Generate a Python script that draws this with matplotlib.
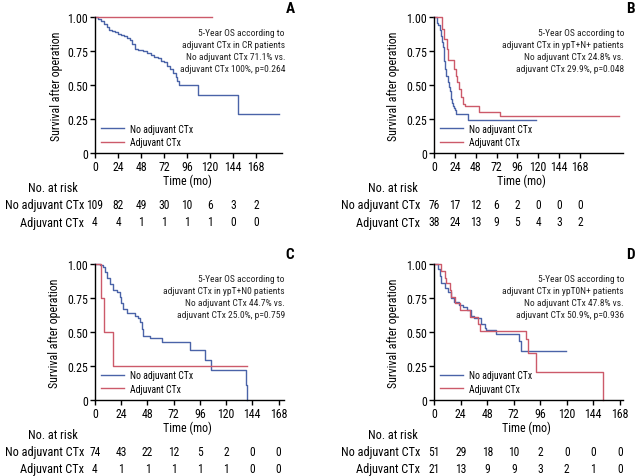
import matplotlib
matplotlib.use("Agg")
import matplotlib.pyplot as plt
from matplotlib import font_manager
from matplotlib.transforms import blended_transform_factory

# ---------- font choice (condensed sans if available) ----------
_avail = {f.name for f in font_manager.fontManager.ttflist}
FONT = "DejaVu Sans"
for cand in ["Liberation Sans Narrow", "DejaVu Sans Condensed", "Roboto Condensed",
             "Open Sans Condensed", "Liberation Sans", "Roboto"]:
    if cand in _avail:
        FONT = cand
        break
plt.rcParams["font.family"] = [FONT, "DejaVu Sans"]

BLUE = "#4a63a8"
RED = "#cc5a6a"

# ---------- data ----------
xticks = [0, 24, 48, 72, 96, 120, 144, 168]
yticks = [0, 0.25, 0.50, 0.75, 1.00]
ytick_labels = ["0", "0.25", "0.50", "0.75", "1.00"]
legend_labels = ["No adjuvant CTx", "Adjuvant CTx"]

# Panel A (CR patients)
a_no_t = [0, 3, 6, 9, 12, 15, 18, 21, 24, 27, 30, 33, 36, 39, 42, 45, 50, 54, 58, 62,
          66, 69, 72, 75, 78, 81, 84, 86, 88, 107, 149, 192]
a_no_s = [1.0, 0.99, 0.97, 0.95, 0.93, 0.91, 0.90, 0.89, 0.88, 0.87, 0.86, 0.85, 0.83,
          0.80, 0.77, 0.76, 0.75, 0.74, 0.72, 0.71, 0.70, 0.68, 0.67, 0.64, 0.62, 0.59,
          0.56, 0.53, 0.50, 0.43, 0.285, 0.285]
a_adj_t = [0, 122]
a_adj_s = [1.0, 1.0]
a_risk_no = [109, 82, 49, 30, 10, 6, 3, 2]
a_risk_adj = [4, 4, 1, 1, 1, 1, 0, 0]
a_text = ("5-Year OS according to\nadjuvant CTx in CR patients\n"
          "No adjuvant CTx 71.1% vs.\nadjuvant CTx 100%, p=0.264")

# Panel B (ypT+N+ patients)
b_no_t = [0, 3, 5, 6.5, 8, 9, 10, 11, 12, 13, 14, 16, 17, 18, 19, 20, 21, 22, 23, 24,
          25.5, 39, 117]
b_no_s = [1.0, 0.96, 0.94, 0.91, 0.86, 0.82, 0.78, 0.74, 0.68, 0.62, 0.57, 0.52, 0.49,
          0.46, 0.43, 0.40, 0.37, 0.35, 0.33, 0.315, 0.285, 0.246, 0.246]
b_adj_t = [0, 9, 11.5, 14.5, 16.5, 23.5, 25, 27, 29, 31, 33.8, 35.6, 52, 75.6, 213]
b_adj_s = [1.0, 0.915, 0.84, 0.77, 0.685, 0.62, 0.57, 0.52, 0.47, 0.41, 0.36, 0.35,
           0.30, 0.27, 0.27]
b_risk_no = [76, 17, 12, 6, 2, 0, 0, 0]
b_risk_adj = [38, 24, 13, 9, 5, 4, 3, 2]
b_text = ("5-Year OS according to\nadjuvant CTx in ypT+N+ patients\n"
          "No adjuvant CTx 24.8% vs.\nadjuvant CTx 29.9%, p=0.048")

# Panel C (ypT+N0 patients)
c_no_t = [0, 4.6, 7.6, 9, 10.7, 13.7, 16.8, 19.8, 23, 24, 26, 29, 36.6, 39.6, 41, 42.7,
          44, 50, 61, 87, 101, 106, 137.8, 139]
c_no_s = [1.0, 0.99, 0.975, 0.94, 0.90, 0.85, 0.81, 0.79, 0.76, 0.71, 0.67, 0.64, 0.62,
          0.60, 0.57, 0.52, 0.47, 0.455, 0.425, 0.368, 0.295, 0.221, 0.11, 0.0]
c_adj_t = [0, 5.5, 8.5, 16.8, 139.4]
c_adj_s = [1.0, 0.75, 0.50, 0.25, 0.25]
c_risk_no = [74, 43, 22, 12, 5, 2, 0, 0]
c_risk_adj = [4, 1, 1, 1, 1, 1, 0, 0]
c_text = ("5-Year OS according to\nadjuvant CTx in ypT+N0 patients\n"
          "No adjuvant CTx 44.7% vs.\nadjuvant CTx 25.0%, p=0.759")

# Panel D (ypT0N+ patients)
d_no_t = [0, 3, 5, 6, 10, 12, 15, 18, 22, 26, 30, 33, 36, 40, 42.6, 45.6, 47, 56, 77,
          78.8, 119]
d_no_s = [1.0, 0.96, 0.91, 0.86, 0.82, 0.79, 0.75, 0.72, 0.70, 0.68, 0.66, 0.62, 0.60,
          0.60, 0.56, 0.53, 0.51, 0.484, 0.43, 0.36, 0.36]
d_adj_t = [0, 6.3, 9.4, 11, 14, 15.4, 18.4, 23, 32, 40, 41, 83, 85, 92.4, 153]
d_adj_s = [1.0, 0.95, 0.90, 0.86, 0.81, 0.76, 0.71, 0.66, 0.61, 0.56, 0.506, 0.447,
           0.344, 0.206, 0.0]
d_risk_no = [51, 29, 18, 10, 2, 0, 0, 0]
d_risk_adj = [21, 13, 9, 9, 3, 2, 1, 0]
d_text = ("5-Year OS according to\nadjuvant CTx in ypT0N+ patients\n"
          "No adjuvant CTx 47.8% vs.\nadjuvant CTx 50.9%, p=0.936")

# ---------- layout (pixels) ----------
W, H = 636, 477
fig = plt.figure(figsize=(W / 100, H / 100), dpi=100)


def fx(px):
    return px / W


def fy(py):
    return 1 - py / H


panels = [
    dict(letter="A", l=95, r=282, t=18.3, b=154, xmax=195,
         no=(a_no_t, a_no_s), adj=(a_adj_t, a_adj_s), rn=a_risk_no, ra=a_risk_adj,
         text=a_text, lab_r=84, nar_r=78, xl_cx=187, yl_cx=57, lx=290, ly=9, tr=285),
    dict(letter="B", l=434, r=623, t=18.3, b=154, xmax=217.5,
         no=(b_no_t, b_no_s), adj=(b_adj_t, b_adj_s), rn=b_risk_no, ra=b_risk_adj,
         text=b_text, lab_r=420, nar_r=418, xl_cx=521, yl_cx=394, lx=630, ly=9, tr=624),
    dict(letter="C", l=95, r=284, t=265, b=400.7, xmax=173,
         no=(c_no_t, c_no_s), adj=(c_adj_t, c_adj_s), rn=c_risk_no, ra=c_risk_adj,
         text=c_text, lab_r=84, nar_r=78, xl_cx=187, yl_cx=55, lx=290, ly=255, tr=285),
    dict(letter="D", l=434.3, r=623, t=265, b=400.7, xmax=171,
         no=(d_no_t, d_no_s), adj=(d_adj_t, d_adj_s), rn=d_risk_no, ra=d_risk_adj,
         text=d_text, lab_r=420, nar_r=418, xl_cx=526, yl_cx=394, lx=630, ly=255, tr=624),
]

TICK_FS = 8.6
TABLE_LAB_FS = 8.8
TABLE_NUM_FS = 8.3
ANN_FS = 6.8
LEG_FS = 7.0

for p in panels:
    l, r, t, b = p["l"], p["r"], p["t"], p["b"]
    ax = fig.add_axes([fx(l), fy(b), (r - l) / W, (b - t) / H])
    ax.step(p["no"][0], p["no"][1], where="post", color=BLUE, lw=1.0,
            label=legend_labels[0], clip_on=False)
    ax.step(p["adj"][0], p["adj"][1], where="post", color=RED, lw=1.0,
            label=legend_labels[1], clip_on=False)
    ax.set_xlim(0, p["xmax"])
    ax.set_ylim(0, 1.0)
    ax.set_xticks(xticks)
    ax.set_xticklabels([str(v) for v in xticks], fontsize=TICK_FS)
    ax.set_yticks(yticks)
    ax.set_yticklabels(ytick_labels, fontsize=TICK_FS)
    for s in ["top", "right"]:
        ax.spines[s].set_visible(False)
    for s in ["left", "bottom"]:
        ax.spines[s].set_linewidth(1.0)
    ax.tick_params(direction="out", length=3.5, width=1.0, pad=1.5)
    ax.patch.set_alpha(0)

    # axis labels
    aw, ah = r - l, b - t
    ax.set_xlabel("Time (mo)", fontsize=TICK_FS)
    ax.xaxis.set_label_coords((p["xl_cx"] - l) / aw, -21 / ah)
    ax.set_ylabel("Survival after operation", fontsize=TICK_FS)
    ax.yaxis.set_label_coords((p["yl_cx"] + 6 - l) / aw, 0.5)

    # legend
    ax.legend(loc="lower left", bbox_to_anchor=(0.0, 0.0), frameon=False,
              fontsize=LEG_FS, handlelength=2.4, handletextpad=0.6,
              labelspacing=0.35, borderaxespad=0.2)

    # annotation text
    fig.text(fx(p["tr"]), fy(p["t"] + 10.5), p["text"], ha="right", va="top",
             fontsize=ANN_FS, linespacing=1.42, color="#222222")

    # panel letter
    fig.text(fx(p["lx"]), fy(p["ly"]), p["letter"], ha="center", va="center",
             fontsize=11, fontweight="bold")

    # number at risk table
    trans = blended_transform_factory(ax.transData, fig.transFigure)
    fig.text(fx(p["nar_r"]), fy(b + 35), "No. at risk", ha="right", va="center",
             fontsize=TABLE_LAB_FS)
    fig.text(fx(p["lab_r"]), fy(b + 52), legend_labels[0], ha="right", va="center",
             fontsize=TABLE_LAB_FS)
    fig.text(fx(p["lab_r"]), fy(b + 69), legend_labels[1], ha="right", va="center",
             fontsize=TABLE_LAB_FS)
    for xv, n1, n2 in zip(xticks, p["rn"], p["ra"]):
        ax.text(xv, fy(b + 52), str(n1), transform=trans, ha="center", va="center",
                fontsize=TABLE_NUM_FS)
        ax.text(xv, fy(b + 69), str(n2), transform=trans, ha="center", va="center",
                fontsize=TABLE_NUM_FS)

fig.savefig("out.png", dpi=100)
